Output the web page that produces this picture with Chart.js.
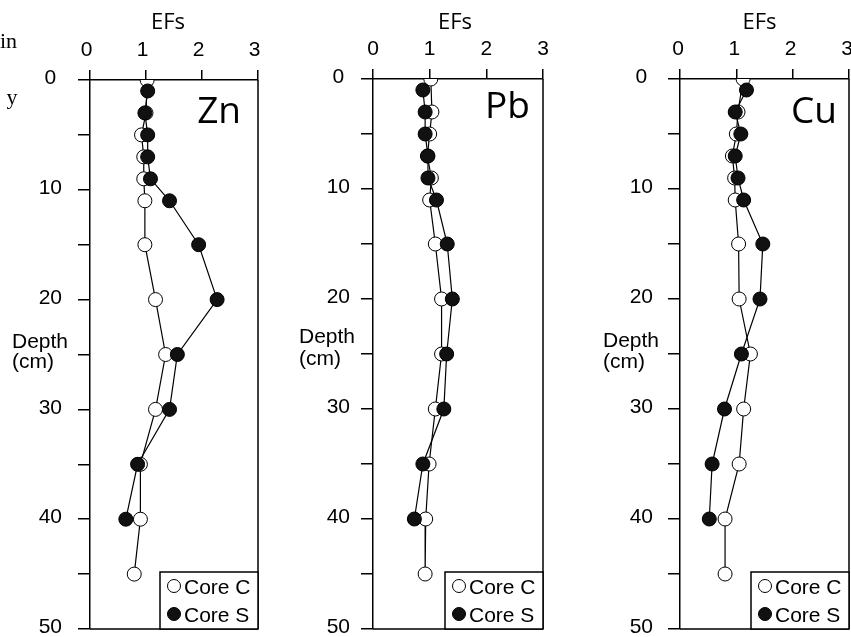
<!DOCTYPE html>
<html><head><meta charset="utf-8">
<script src="https://cdn.jsdelivr.net/npm/chart.js@4/dist/chart.umd.min.js"></script>
<style>
html,body{margin:0;padding:0;background:#fff;overflow:hidden;width:851px;height:637px;position:relative;}
canvas{position:absolute;top:0;}
</style></head><body>
<canvas id="c1" width="280" height="637" style="left:0px"></canvas>
<canvas id="c2" width="290" height="637" style="left:280px"></canvas>
<canvas id="c3" width="290" height="637" style="left:570px"></canvas>
<script>
// ---- data ----
const depthCoreC = [0, 3, 5, 7, 9, 11, 15, 20, 25, 30, 35, 40, 45];
const depthCoreS = [1, 3, 5, 7, 9, 11, 15, 20, 25, 30, 35, 40];
const znCoreC = [1.02, 1.00, 0.92, 0.96, 0.96, 0.98, 0.98, 1.17, 1.35, 1.17, 0.90, 0.90, 0.79];
const znCoreS = [1.03, 0.98, 1.03, 1.03, 1.08, 1.42, 1.94, 2.27, 1.56, 1.42, 0.85, 0.64];
const pbCoreC = [1.02, 1.04, 1.00, 0.96, 1.03, 1.00, 1.10, 1.21, 1.21, 1.10, 0.99, 0.93, 0.92];
const pbCoreS = [0.88, 0.92, 0.92, 0.97, 0.97, 1.12, 1.31, 1.40, 1.30, 1.25, 0.88, 0.73];
const cuCoreC = [1.12, 1.03, 1.00, 0.93, 0.97, 0.98, 1.04, 1.05, 1.25, 1.13, 1.05, 0.80, 0.80];
const cuCoreS = [1.18, 0.98, 1.08, 0.98, 1.03, 1.13, 1.47, 1.42, 1.09, 0.79, 0.57, 0.52];
const elements = ['Zn', 'Pb', 'Cu'];
const seriesNames = ['Core C', 'Core S'];
const efTickLabels = [0, 1, 2, 3];
const depthTickLabels = [0, 10, 20, 30, 40, 50];
const xTitle = 'EFs';
const yTitle = ['Depth', '(cm)'];
const sideText = ['in', 'y'];

const valuesC = [znCoreC, pbCoreC, cuCoreC];
const valuesS = [znCoreS, pbCoreS, cuCoreS];

// ---- layout (pixels) ----
const layouts = [
  {id:'c1', left:0,   cw:280, plotL:90,  plotR:258, plotT:80, plotB:632, yPad:16, xOff:-3.5, efOff:-6, depthX:12,  depthY:[348,368], labelR:241, labelY:123, extra:true},
  {id:'c2', left:280, cw:290, plotL:373, plotR:543, plotT:79, plotB:631, yPad:11, xOff:0,    efOff:-3, depthX:299, depthY:[343,365], labelR:530, labelY:118, extra:false},
  {id:'c3', left:570, cw:290, plotL:680, plotR:849, plotT:79, plotB:632, yPad:15, xOff:-2,   efOff:-5, depthX:603, depthY:[347,368], labelR:837, labelY:123, extra:false}
];
const SANS = '"Liberation Sans", Arial, sans-serif';
const OPEN = '"Open Sans", "Noto Sans", sans-serif';
const SERIF = '"Liberation Serif", "Times New Roman", serif';

const decor = {
  id: 'decor',
  afterDraw(chart, args, L) {
    const ctx = chart.ctx, a = chart.chartArea, off = L.left;
    ctx.save();
    ctx.strokeStyle = '#000'; ctx.lineWidth = 1.5;
    ctx.beginPath();
    ctx.moveTo(a.right, a.top); ctx.lineTo(a.right, a.bottom);
    ctx.moveTo(a.left, a.bottom); ctx.lineTo(a.right, a.bottom);
    ctx.stroke();
    // legend
    const bx = a.right - 98, by = a.bottom - 57;
    ctx.fillStyle = '#fff'; ctx.fillRect(bx, by, 98, 57);
    ctx.strokeRect(bx, by, 98, 57);
    const rows = [[14, 21.5, '#fff'], [42, 50, '#111']];
    rows.forEach((r, i) => {
      ctx.beginPath(); ctx.arc(bx + 14, by + r[0], 6.5, 0, Math.PI * 2);
      ctx.fillStyle = r[2]; ctx.fill(); ctx.lineWidth = 1; ctx.strokeStyle = '#000'; ctx.stroke();
      ctx.fillStyle = '#000'; ctx.font = '21px ' + SANS; ctx.textAlign = 'left'; ctx.textBaseline = 'alphabetic';
      ctx.fillText(seriesNames[i], bx + 24, by + r[1]);
    });
    // element label
    ctx.fillStyle = '#000';
    ctx.font = '37px ' + OPEN; ctx.textAlign = 'right';
    ctx.fillText(L.element, L.labelR - off, L.labelY);
    // EFs title
    ctx.font = '22px ' + OPEN; ctx.textAlign = 'center';
    ctx.fillText(xTitle, (a.left + a.right) / 2 + L.efOff, 29);
    // Depth title
    ctx.font = '21px ' + SANS; ctx.textAlign = 'left';
    ctx.fillText(yTitle[0], L.depthX - off, L.depthY[0]);
    ctx.fillText(yTitle[1], L.depthX - off, L.depthY[1]);
    if (L.extra) {
      ctx.font = '22px ' + SERIF; ctx.textAlign = 'left';
      ctx.fillText(sideText[0], 0, 48);
      ctx.fillText(sideText[1], 6.5, 103.5);
    }
    ctx.restore();
  }
};

layouts.forEach((L, k) => {
  L.element = elements[k];
  const dsC = depthCoreC.map((d, i) => ({x: valuesC[k][i], y: d}));
  const dsS = depthCoreS.map((d, i) => ({x: valuesS[k][i], y: d}));
  new Chart(document.getElementById(L.id), {
    type: 'scatter',
    data: {
      datasets: [
        {label: seriesNames[0], data: dsC, showLine: true, order: 2, borderColor: '#000', borderWidth: 1.2,
         pointRadius: 7, pointBackgroundColor: '#fff', pointBorderColor: '#000', pointBorderWidth: 1, tension: 0},
        {label: seriesNames[1], data: dsS, showLine: true, order: 1, borderColor: '#000', borderWidth: 1.2,
         pointRadius: 7, pointBackgroundColor: '#111', pointBorderColor: '#000', pointBorderWidth: 1, tension: 0}
      ]
    },
    options: {
      responsive: false, animation: false, devicePixelRatio: 1,
      layout: {padding: {left: 0, top: 0, right: L.cw - (L.plotR - L.left), bottom: 637 - L.plotB}},
      plugins: {legend: {display: false}, tooltip: {enabled: false}, decor: L},
      scales: {
        x: {
          type: 'linear', position: 'top', min: 0, max: 3,
          afterBuildTicks: s => { s.ticks = efTickLabels.map(v => ({value: v})); },
          ticks: {font: {family: SANS, size: 21}, color: '#000', padding: 7, labelOffset: L.xOff, maxRotation: 0, autoSkip: false},
          grid: {drawOnChartArea: false, drawTicks: true, tickLength: 10, color: '#000', lineWidth: 1.5},
          border: {display: true, color: '#000', width: 1.5},
          afterFit: s => { s.height = L.plotT; s.paddingLeft = 0; s.paddingRight = 0; }
        },
        y: {
          type: 'linear', position: 'left', reverse: true, min: 0, max: 50,
          ticks: {stepSize: 5, autoSkip: false, font: {family: SANS, size: 21}, color: '#000', crossAlign: 'center',
                  padding: L.yPad, labelOffset: -1.5,
                  callback: v => depthTickLabels.includes(v) ? String(v) : ''},
          grid: {drawOnChartArea: false, drawTicks: true, tickLength: 12, color: '#000', lineWidth: 1.5},
          border: {display: true, color: '#000', width: 1.5},
          afterFit: s => { s.width = L.plotL - L.left; s.paddingTop = 0; s.paddingBottom = 0; }
        }
      }
    },
    plugins: [decor]
  });
});
</script>
</body></html>
